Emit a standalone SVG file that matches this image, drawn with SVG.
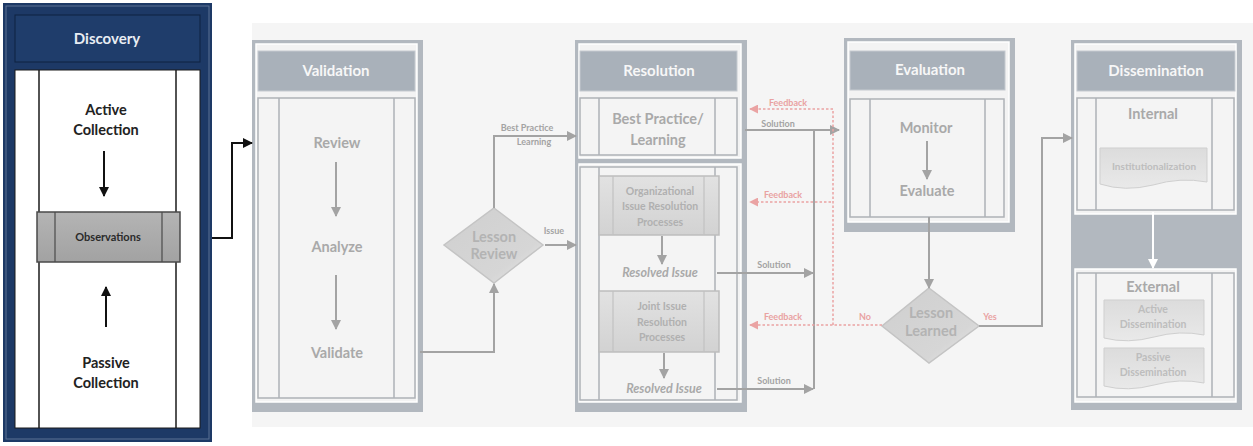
<svg xmlns="http://www.w3.org/2000/svg" width="1253" height="446" viewBox="0 0 1253 446">
<defs>
<style>
.frame{fill:#b2b8bf}
.light{fill:#f3f3f3;stroke:#ffffff;stroke-width:1.5}
.hdr{fill:#a9b1ba;stroke:#c5cad0;stroke-width:1}
.hdrt{font-family:Lato,"Open Sans",sans-serif;font-weight:bold;font-size:15px;fill:#f7f7f7;text-anchor:middle}
.box{fill:#f4f4f4;stroke:#aeb2b7;stroke-width:1.5}
.vl{stroke:#aeb2b7;stroke-width:1.5}
.t{font-family:Lato,"Open Sans",sans-serif;font-weight:bold;font-size:14.5px;fill:#a9a9a9;text-anchor:middle}
.ts{font-family:Lato,"Open Sans",sans-serif;font-weight:bold;font-size:10.5px;fill:#b0b0b0;text-anchor:middle}
.ti{font-family:Lato,"Open Sans",sans-serif;font-weight:bold;font-style:italic;font-size:12.5px;fill:#a9a9a9;text-anchor:middle}
.tl{font-family:Lato,"Open Sans",sans-serif;font-weight:bold;font-size:9px;fill:#a3a3a3;text-anchor:middle}
.tr{font-family:Lato,"Open Sans",sans-serif;font-weight:bold;font-size:9px;fill:#e9a2a2;text-anchor:middle}
.td{font-family:Lato,"Open Sans",sans-serif;font-weight:bold;font-size:14.5px;fill:#222;text-anchor:middle}
.g{fill:none;stroke:#a3a3a3;stroke-width:2}
.gh{fill:none;stroke:#a3a3a3;stroke-width:2;marker-end:url(#ag)}
.rd{fill:none;stroke:#eaa3a3;stroke-width:1.5;stroke-dasharray:2.5 2}
.rdh{fill:none;stroke:#eaa3a3;stroke-width:1.5;stroke-dasharray:2.5 2;marker-end:url(#ar)}
.bk{fill:none;stroke:#111;stroke-width:2;marker-end:url(#ab)}
.proc{fill:url(#pg);stroke:#bdbdbd;stroke-width:1.5}
.doc{fill:url(#dg);stroke:#cfcfcf;stroke-width:1}
.dia{fill:url(#dmg);stroke:#c4c4c4;stroke-width:1.5}
</style>
<marker id="ag" viewBox="0 0 10 10" refX="9" refY="5" markerWidth="5" markerHeight="5" orient="auto" markerUnits="strokeWidth"><path d="M0,0 L10,5 L0,10 z" fill="#a3a3a3"/></marker>
<marker id="ar" viewBox="0 0 10 10" refX="9" refY="5" markerWidth="6" markerHeight="6" orient="auto" markerUnits="strokeWidth"><path d="M0,0 L10,5 L0,10 z" fill="#eaa3a3"/></marker>
<marker id="ab" viewBox="0 0 10 10" refX="9" refY="5" markerWidth="5" markerHeight="5" orient="auto" markerUnits="strokeWidth"><path d="M0,0 L10,5 L0,10 z" fill="#111"/></marker>
<marker id="aw" viewBox="0 0 10 10" refX="9" refY="5" markerWidth="5" markerHeight="5" orient="auto" markerUnits="strokeWidth"><path d="M0,0 L10,5 L0,10 z" fill="#ffffff"/></marker>
<linearGradient id="pg" x1="0" y1="0" x2="0" y2="1"><stop offset="0" stop-color="#e2e2e2"/><stop offset="1" stop-color="#d2d2d2"/></linearGradient>
<linearGradient id="dg" x1="0" y1="0" x2="0" y2="1"><stop offset="0" stop-color="#dcdcdc"/><stop offset="1" stop-color="#e9e9e9"/></linearGradient>
<linearGradient id="dmg" x1="0" y1="0" x2="1" y2="1"><stop offset="0" stop-color="#cfcfcf"/><stop offset="0.7" stop-color="#d6d6d6"/><stop offset="1" stop-color="#ececec"/></linearGradient>
<linearGradient id="og" x1="0" y1="0" x2="0" y2="1"><stop offset="0" stop-color="#b4b4b4"/><stop offset="1" stop-color="#a2a2a2"/></linearGradient>
</defs>
<rect x="0" y="0" width="1253" height="446" fill="#ffffff"/>
<rect x="252" y="23" width="1001" height="404" fill="#f5f5f5"/>

<g id="discovery">
<rect x="3" y="3" width="209" height="439" fill="#1d3966"/>
<rect x="6" y="6" width="203" height="433" fill="none" stroke="#5c7394" stroke-width="1"/>
<rect x="15" y="15" width="185" height="47" fill="#1f3d6b" stroke="#0f2240" stroke-width="1"/>
<text class="hdrt" x="107" y="44" style="fill:#e8edf3">Discovery</text>
<rect x="15" y="70" width="185" height="358" fill="#ffffff" stroke="#1a1a1a" stroke-width="1"/>
<line x1="39" y1="70" x2="39" y2="428" stroke="#1a1a1a" stroke-width="1.5"/>
<line x1="176" y1="70" x2="176" y2="428" stroke="#1a1a1a" stroke-width="1.5"/>
<text class="td" x="106" y="115">Active</text>
<text class="td" x="106" y="135">Collection</text>
<line x1="104" y1="151" x2="104" y2="196" class="bk"/>
<rect x="37" y="212" width="143" height="50" fill="url(#og)" stroke="#4a4a4a" stroke-width="1.5"/>
<line x1="55" y1="212" x2="55" y2="262" stroke="#4a4a4a" stroke-width="1.2"/>
<line x1="162" y1="212" x2="162" y2="262" stroke="#4a4a4a" stroke-width="1.2"/>
<text class="td" x="108" y="241" style="font-size:11px;fill:#2a2a2a">Observations</text>
<line x1="106" y1="327" x2="106" y2="287" class="bk"/>
<text class="td" x="106" y="368">Passive</text>
<text class="td" x="106" y="388">Collection</text>
</g>

<g id="validation">
<rect x="252" y="40" width="171" height="372" class="frame"/>
<rect x="256" y="44" width="161" height="358" class="light"/>
<rect x="258" y="51" width="157" height="40" class="hdr"/>
<text class="hdrt" x="336" y="76">Validation</text>
<rect x="258" y="98" width="157" height="300" class="box"/>
<line x1="279" y1="98" x2="279" y2="398" class="vl"/>
<line x1="394" y1="98" x2="394" y2="398" class="vl"/>
<text class="t" x="337" y="148">Review</text>
<line x1="336" y1="162" x2="336" y2="216" class="gh"/>
<text class="t" x="337" y="252">Analyze</text>
<line x1="336" y1="275" x2="336" y2="329" class="gh"/>
<text class="t" x="337" y="358">Validate</text>
</g>

<g id="lesson-review">
<polygon points="494,208 543,245 494,283 444,245" class="dia"/>
<text class="t" x="494" y="242" style="fill:#b3b3b3">Lesson</text>
<text class="t" x="494" y="259" style="fill:#b3b3b3">Review</text>
</g>

<g id="resolution">
<rect x="575" y="40" width="172" height="372" class="frame"/>
<rect x="579" y="44" width="162" height="114" class="light"/>
<rect x="579" y="164" width="162" height="238" class="light"/>
<rect x="580" y="51" width="157" height="40" class="hdr"/>
<text class="hdrt" x="659" y="76">Resolution</text>
<rect x="580" y="98" width="157" height="57" class="box"/>
<line x1="599" y1="98" x2="599" y2="155" class="vl"/>
<line x1="715" y1="98" x2="715" y2="155" class="vl"/>
<text class="t" x="658" y="124">Best Practice/</text>
<text class="t" x="658" y="145">Learning</text>
<rect x="580" y="167" width="157" height="233" class="box"/>
<line x1="599" y1="167" x2="599" y2="400" class="vl"/>
<line x1="715" y1="167" x2="715" y2="400" class="vl"/>
<rect x="599" y="176" width="120" height="59" class="proc"/>
<line x1="613" y1="176" x2="613" y2="235" stroke="#c2c2c2" stroke-width="1.2"/>
<line x1="704" y1="176" x2="704" y2="235" stroke="#c2c2c2" stroke-width="1.2"/>
<text class="ts" x="660" y="195">Organizational</text>
<text class="ts" x="660" y="210">Issue Resolution</text>
<text class="ts" x="660" y="226">Processes</text>
<line x1="662" y1="236" x2="662" y2="264" class="gh"/>
<text class="ti" x="660" y="277">Resolved Issue</text>
<rect x="599" y="291" width="120" height="61" class="proc"/>
<line x1="613" y1="291" x2="613" y2="352" stroke="#c2c2c2" stroke-width="1.2"/>
<line x1="704" y1="291" x2="704" y2="352" stroke="#c2c2c2" stroke-width="1.2"/>
<text class="ts" x="662" y="310">Joint Issue</text>
<text class="ts" x="662" y="326">Resolution</text>
<text class="ts" x="662" y="341">Processes</text>
<line x1="664" y1="353" x2="664" y2="378" class="gh"/>
<text class="ti" x="664" y="393">Resolved Issue</text>
</g>

<g id="evaluation">
<rect x="844" y="38" width="171" height="194" class="frame"/>
<rect x="848" y="42" width="161" height="180" class="light"/>
<rect x="850" y="51" width="155" height="39" class="hdr"/>
<text class="hdrt" x="930" y="75">Evaluation</text>
<rect x="850" y="99" width="154" height="118" class="box"/>
<line x1="870" y1="99" x2="870" y2="217" class="vl"/>
<line x1="985" y1="99" x2="985" y2="217" class="vl"/>
<text class="t" x="926" y="133">Monitor</text>
<line x1="927" y1="141" x2="927" y2="179" class="gh"/>
<text class="t" x="927" y="196">Evaluate</text>
</g>

<g id="lesson-learned">
<polygon points="929,288 979,326 929,363 882,326" class="dia"/>
<text class="t" x="931" y="318" style="fill:#b3b3b3">Lesson</text>
<text class="t" x="931" y="336" style="fill:#b3b3b3">Learned</text>
</g>

<g id="dissemination">
<rect x="1071" y="40" width="171" height="370" class="frame"/>
<rect x="1075" y="44" width="161" height="170" class="light"/>
<rect x="1075" y="269" width="161" height="133" class="light"/>
<rect x="1077" y="51" width="158" height="40" class="hdr"/>
<text class="hdrt" x="1156" y="76">Dissemination</text>
<rect x="1077" y="98" width="157" height="112" class="box"/>
<line x1="1096" y1="98" x2="1096" y2="210" class="vl"/>
<line x1="1212" y1="98" x2="1212" y2="210" class="vl"/>
<text class="t" x="1153" y="119">Internal</text>
<path d="M1100,148 H1207 V182 Q1180,177 1153,185 Q1125,192 1100,184 Z" class="doc"/>
<text class="ts" x="1154" y="170" style="font-size:10px;fill:#bdbdbd">Institutionalization</text>
<line x1="1153" y1="212" x2="1153" y2="268" stroke="#ffffff" stroke-width="2" marker-end="url(#aw)"/>
<rect x="1077" y="273" width="157" height="124" class="box"/>
<line x1="1096" y1="273" x2="1096" y2="397" class="vl"/>
<line x1="1212" y1="273" x2="1212" y2="397" class="vl"/>
<text class="t" x="1153" y="292">External</text>
<path d="M1104,300 H1204 V335 Q1180,330 1154,337 Q1128,344 1104,338 Z" class="doc"/>
<text class="ts" x="1153" y="313" style="fill:#bdbdbd">Active</text>
<text class="ts" x="1153" y="328" style="fill:#bdbdbd">Dissemination</text>
<path d="M1104,348 H1204 V383 Q1180,378 1154,385 Q1128,392 1104,386 Z" class="doc"/>
<text class="ts" x="1153" y="361" style="fill:#bdbdbd">Passive</text>
<text class="ts" x="1153" y="376" style="fill:#bdbdbd">Dissemination</text>
</g>

<g id="connectors">
<polyline points="212,238 232,238 232,143 252,143" class="bk"/>
<polyline points="420,352 494,352 494,284" class="gh"/>
<polyline points="494,208 494,136 576,136" class="gh"/>
<text class="tl" x="527" y="131">Best Practice</text>
<text class="tl" x="534" y="145">Learning</text>
<line x1="545" y1="245" x2="576" y2="245" class="gh"/>
<text class="tl" x="554" y="234">Issue</text>
<line x1="745" y1="130" x2="839" y2="130" class="gh"/>
<text class="tl" x="778" y="127">Solution</text>
<line x1="814" y1="130" x2="814" y2="389" class="g"/>
<line x1="717" y1="273" x2="813" y2="273" class="gh"/>
<text class="tl" x="774" y="268">Solution</text>
<line x1="717" y1="389" x2="813" y2="389" class="gh"/>
<text class="tl" x="774" y="384">Solution</text>
<polyline points="833,325 833,109 750,109" class="rdh"/>
<text class="tr" x="788" y="106">Feedback</text>
<line x1="831" y1="202" x2="750" y2="202" class="rdh"/>
<text class="tr" x="783" y="198">Feedback</text>
<line x1="882" y1="325" x2="750" y2="325" class="rdh"/>
<text class="tr" x="783" y="320">Feedback</text>
<text class="tr" x="865" y="320">No</text>
<line x1="929" y1="217" x2="929" y2="288" class="gh"/>
<polyline points="979,326 1042,326 1042,138 1072,138" class="gh"/>
<text class="tr" x="990" y="320">Yes</text>
</g>
</svg>
